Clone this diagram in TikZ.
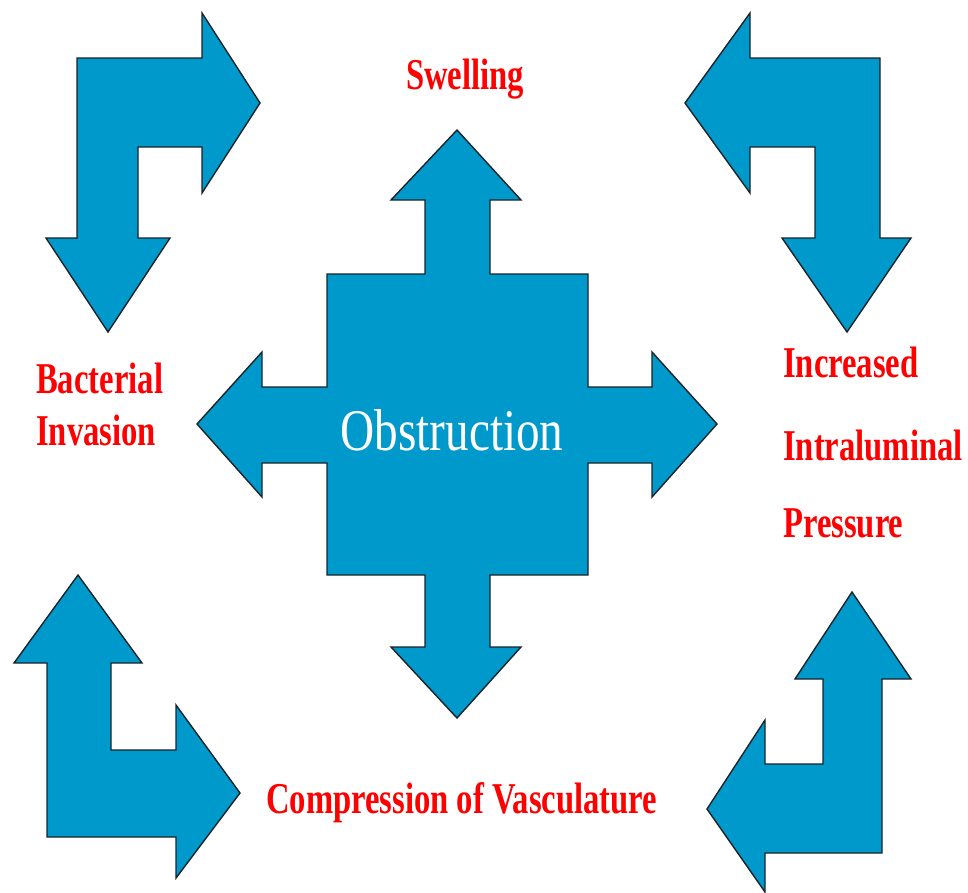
\documentclass[tikz,border=0pt]{standalone}
\usepackage{fontspec}
\setmainfont{Liberation Serif}
\definecolor{arrowblue}{RGB}{0,153,204}
\definecolor{edgegray}{RGB}{25,35,40}
\tikzset{
  bluearrow/.style={fill=arrowblue, draw=edgegray, line width=1.4pt, line join=miter},
  redlabel/.style={text=red, font=\fontsize{44}{48}\selectfont\bfseries, anchor=base west, inner sep=0pt, xscale=0.742},
  centerlabel/.style={text=white, font=\fontsize{59}{64}\selectfont, anchor=base, inner sep=0pt, xscale=0.8}
}
\begin{document}
\begin{tikzpicture}[x=1pt,y=-1pt]
\useasboundingbox (0,0) rectangle (968,892);
\fill[white] (0,0) rectangle (968,892);
% central cross
\draw[bluearrow] (425,274) -- (425,200) -- (391,200) -- (457,130) -- (521,200) -- (490,200) -- (490,274)
  -- (588,274) -- (588,387) -- (652,387) -- (652,352) -- (717,424) -- (652,497) -- (652,463) -- (588,463)
  -- (588,575) -- (490,575) -- (490,647) -- (521,647) -- (457,718) -- (391,647) -- (425,647) -- (425,575)
  -- (327,575) -- (327,463) -- (262,463) -- (262,497) -- (197,424) -- (262,352) -- (262,387) -- (327,387)
  -- (327,274) -- cycle;
% top-left bent arrow
\draw[bluearrow] (77,58) -- (202,58) -- (202,13) -- (260,103) -- (202,193) -- (202,147) -- (138,147)
  -- (138,238) -- (170,238) -- (108,332) -- (46,238) -- (77,238) -- cycle;
% top-right bent arrow
\draw[bluearrow] (880,58) -- (750,58) -- (750,13) -- (685,103) -- (750,193) -- (750,147) -- (815,147)
  -- (815,238) -- (782,238) -- (847,332) -- (911,238) -- (880,238) -- cycle;
% bottom-left bent arrow
\draw[bluearrow] (78,575) -- (142,663) -- (111,663) -- (111,750) -- (176,750) -- (176,705) -- (240,793)
  -- (176,878) -- (176,837) -- (47,837) -- (47,663) -- (14,663) -- cycle;
% bottom-right bent arrow
\draw[bluearrow] (852,592) -- (911,679) -- (882,679) -- (882,853) -- (765,853) -- (765,892) -- (707,809)
  -- (765,720) -- (765,764) -- (823,764) -- (823,679) -- (795,679) -- cycle;
% labels
\node[centerlabel] (obstruction) at (452,450) {Obstruction};
\node[redlabel] (swelling) at (406,89) {Swelling};
\node[redlabel] (bact1) at (36,393) {Bacterial};
\node[redlabel] (bact2) at (36,445) {Invasion};
\node[redlabel] (incr1) at (783,377) {Increased};
\node[redlabel] (incr2) at (783,460) {Intraluminal};
\node[redlabel] (incr3) at (783,537) {Pressure};
\node[redlabel] (compr) at (266,813) {Compression of Vasculature};
\end{tikzpicture}
\end{document}
